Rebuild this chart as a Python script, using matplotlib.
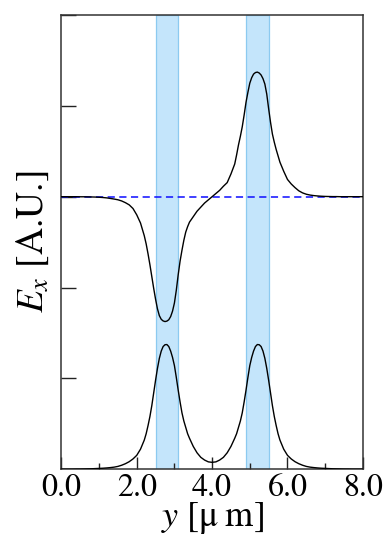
import matplotlib
matplotlib.use("Agg")
import matplotlib.pyplot as plt
import numpy as np

plt.rcParams["font.family"] = "STIXGeneral"
plt.rcParams["mathtext.fontset"] = "stix"

# positions along the structure [um], finer sampling over the cores
y_pos = [
    0.0, 0.1, 0.2, 0.3, 0.4, 0.5, 0.6, 0.7, 0.8, 0.9,
    1.0, 1.1, 1.2, 1.3, 1.4, 1.5, 1.6, 1.7, 1.8, 1.9,
    2.0, 2.1, 2.2, 2.25, 2.3, 2.35, 2.4, 2.45, 2.5, 2.55,
    2.6, 2.65, 2.7, 2.75, 2.8, 2.85, 2.9, 2.95, 3.0, 3.05,
    3.1, 3.15, 3.2, 3.25, 3.3, 3.35, 3.4, 3.5, 3.6, 3.7,
    3.8, 3.9, 4.0, 4.1, 4.2, 4.3, 4.4, 4.5, 4.6, 4.65,
    4.7, 4.75, 4.8, 4.85, 4.9, 4.95, 5.0, 5.05, 5.1, 5.15,
    5.2, 5.25, 5.3, 5.35, 5.4, 5.45, 5.5, 5.55, 5.6, 5.65,
    5.7, 5.75, 5.8, 5.9, 6.0, 6.1, 6.2, 6.3, 6.4, 6.5,
    6.6, 6.7, 6.8, 6.9, 7.0, 7.1, 7.2, 7.3, 7.4, 7.5,
    7.6, 7.7, 7.8, 7.9, 8.0,
]

# odd (antisymmetric) mode, drawn around 0
odd_mode = [
    0.0, 0.0, 0.0, 0.0, 0.0, -0.001, -0.001, -0.002, -0.003, -0.004,
    -0.006, -0.009, -0.013, -0.019, -0.026, -0.034, -0.047, -0.066, -0.090, -0.13,
    -0.20, -0.29, -0.43, -0.52, -0.63, -0.75, -0.88, -1.01, -1.13, -1.235,
    -1.31, -1.35, -1.368, -1.375, -1.37, -1.355, -1.32, -1.26, -1.17, -1.03,
    -0.86, -0.71, -0.59, -0.48, -0.39, -0.33, -0.28, -0.22, -0.16, -0.115,
    -0.07, -0.035, 0.0, 0.035, 0.07, 0.115, 0.155, 0.25, 0.36, 0.46,
    0.57, 0.665, 0.77, 0.90, 1.04, 1.15, 1.25, 1.31, 1.35, 1.367,
    1.372, 1.362, 1.34, 1.30, 1.24, 1.13, 0.97, 0.82, 0.69, 0.60,
    0.52, 0.45, 0.38, 0.28, 0.19, 0.14, 0.10, 0.065, 0.042, 0.027,
    0.018, 0.012, 0.008, 0.005, 0.003, 0.002, 0.001, 0.001, 0.0, 0.0,
    0.0, 0.0, 0.0, 0.0, 0.0,
]

# even (symmetric) mode, drawn on its own baseline
even_mode = [
    0.0, 0.0, 0.0, 0.0, 0.001, 0.001, 0.002, 0.003, 0.004, 0.006,
    0.008, 0.010, 0.013, 0.017, 0.022, 0.030, 0.043, 0.060, 0.082, 0.112,
    0.152, 0.22, 0.32, 0.39, 0.48, 0.58, 0.70, 0.84, 0.98, 1.11,
    1.22, 1.30, 1.35, 1.37, 1.372, 1.35, 1.30, 1.23, 1.14, 1.01,
    0.87, 0.74, 0.62, 0.53, 0.46, 0.39, 0.34, 0.25, 0.18, 0.13,
    0.10, 0.08, 0.075, 0.08, 0.10, 0.13, 0.18, 0.25, 0.34, 0.39,
    0.46, 0.53, 0.62, 0.74, 0.87, 1.01, 1.14, 1.23, 1.30, 1.35,
    1.372, 1.37, 1.35, 1.30, 1.22, 1.11, 0.98, 0.84, 0.70, 0.58,
    0.48, 0.39, 0.32, 0.22, 0.152, 0.112, 0.082, 0.060, 0.043, 0.030,
    0.022, 0.017, 0.013, 0.010, 0.008, 0.006, 0.004, 0.003, 0.002, 0.001,
    0.001, 0.0, 0.0, 0.0, 0.0,
]
even_baseline = -3.0

# waveguide cores [um]
guides = [(2.5, 3.1), (4.9, 5.5)]

x_major = [0, 2, 4, 6, 8]
x_labels = ["0.0", "2.0", "4.0", "6.0", "8.0"]
x_minor = [1, 3, 5, 7]
y_ticks = [-2, -1, 0, 1, 2]

fig = plt.figure(figsize=(3.86, 5.38), dpi=100)
ax = fig.add_axes([0.159, 0.128, 0.781, 0.844])

for lo, hi in guides:
    ax.axvspan(lo, hi, facecolor="#c4e5fb", edgecolor="#8ccaf0",
               linewidth=0.9, zorder=1)

ax.plot([0, 8], [0, 0], color="#1515ff", linewidth=1.15,
        linestyle=(0, (4.5, 2.8)), zorder=2)

ax.plot(y_pos, odd_mode, color="black", linewidth=1.0, zorder=3)
ax.plot(y_pos, np.array(even_mode) + even_baseline,
        color="black", linewidth=1.0, zorder=3)

ax.set_xlim(0, 8)
ax.set_ylim(-3, 2)

ax.set_xticks(x_major)
ax.set_xticklabels(x_labels)
ax.set_xticks(x_minor, minor=True)
ax.set_yticks(y_ticks)
ax.set_yticklabels([])

ax.tick_params(axis="x", which="major", direction="in", length=9,
               width=1.0, labelsize=23, pad=3, colors="#222222",
               labelcolor="black")
ax.tick_params(axis="x", which="minor", direction="in", length=4.5,
               width=1.0, colors="#222222")
ax.tick_params(axis="y", which="major", direction="in", length=11,
               width=1.0, colors="#222222")

for s in ax.spines.values():
    s.set_linewidth(1.1)
    s.set_color("#333333")

ax.set_xlabel(r"$y\ [\mathrm{\mu\;m}]$", fontsize=26, labelpad=-2)
ax.set_ylabel(r"$E_x$ [A.U.]", fontsize=27, labelpad=4)

fig.savefig("out.png", dpi=100)
